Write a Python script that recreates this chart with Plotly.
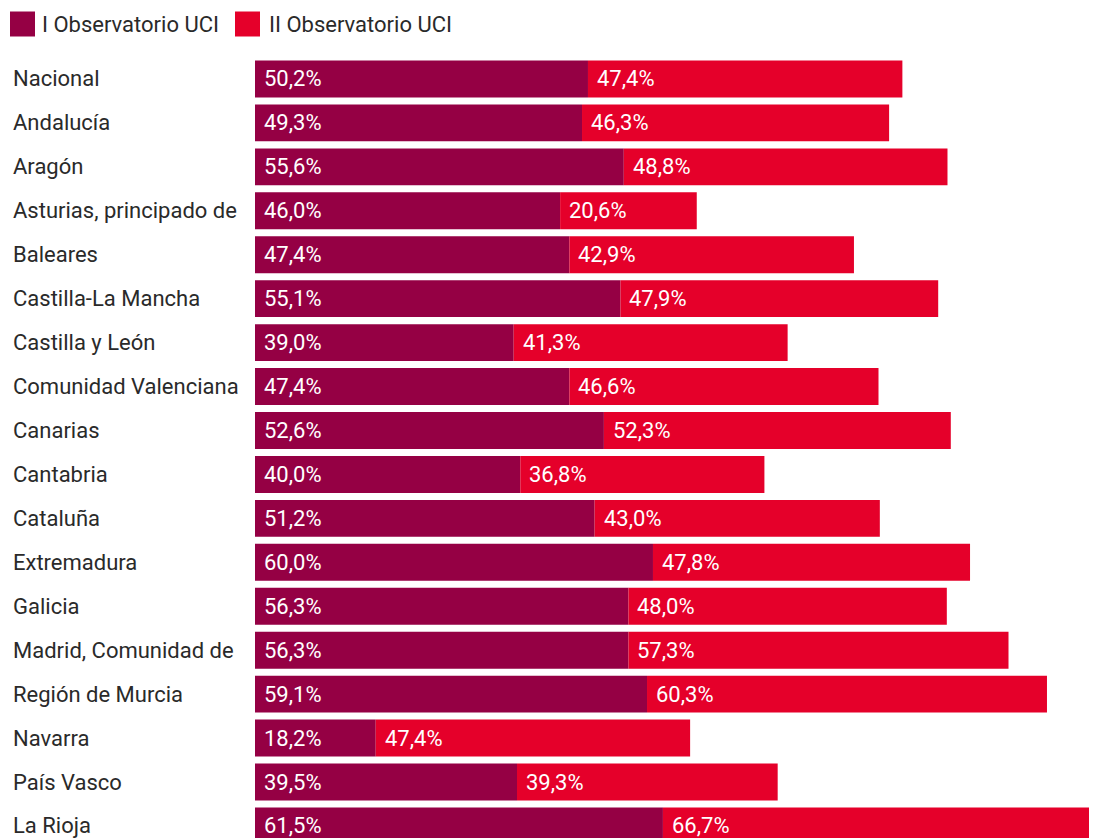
import plotly.graph_objects as go

regions = ["Nacional", "Andalucía", "Aragón", "Asturias, principado de", "Baleares",
           "Castilla-La Mancha", "Castilla y León", "Comunidad Valenciana", "Canarias",
           "Cantabria", "Cataluña", "Extremadura", "Galicia", "Madrid, Comunidad de",
           "Región de Murcia", "Navarra", "País Vasco", "La Rioja"]
obs1 = [50.2, 49.3, 55.6, 46.0, 47.4, 55.1, 39.0, 47.4, 52.6, 40.0, 51.2, 60.0, 56.3, 56.3, 59.1, 18.2, 39.5, 61.5]
obs2 = [47.4, 46.3, 48.8, 20.6, 42.9, 47.9, 41.3, 46.6, 52.3, 36.8, 43.0, 47.8, 48.0, 57.3, 60.3, 47.4, 39.3, 66.7]
series_names = ["I Observatorio UCI", "II Observatorio UCI"]
colors = ["#950044", "#E5002A"]

# page body has an 8px margin; figure coordinates = screen - 8
W, H = 1089, 830
ml, mt = 247, 49
pw = W - ml
ph = H - mt
pitch = 43.94
scale = 6.633

fig = go.Figure()
fig.add_trace(go.Bar(y=regions, x=obs1, orientation="h", marker=dict(color=colors[0], line=dict(width=0)),
                     name=series_names[0], showlegend=False))
fig.add_trace(go.Bar(y=regions, x=obs2, base=obs1, orientation="h", marker=dict(color=colors[1], line=dict(width=0)),
                     name=series_names[1], showlegend=False))

font = "Roboto, sans-serif"
anns = []
def fmt(v):
    return f"{v:.1f}%".replace(".", ",")

for r, a, b in zip(regions, obs1, obs2):
    anns.append(dict(x=0, y=r, xref="x", yref="y", text=fmt(a), showarrow=False,
                     xanchor="left", yanchor="middle", xshift=7,
                     font=dict(family=font, size=22, color="white")))
    anns.append(dict(x=a, y=r, xref="x", yref="y", text=fmt(b), showarrow=False,
                     xanchor="left", yanchor="middle", xshift=7,
                     font=dict(family=font, size=22, color="white")))
    anns.append(dict(x=-(ml - 3) / pw, y=r, xref="paper", yref="y", text=r, showarrow=False,
                     xanchor="left", yanchor="middle",
                     font=dict(family=font, size=22, color="#2a2a2a")))

# legend
leg_y = 1 + (mt - 16) / ph
sq = 25 / ph
shapes = []
legx = [2, 227]
txt_off = [30, 32]
for i, (nm, c) in enumerate(zip(series_names, colors)):
    x0 = (legx[i] - ml) / pw
    shapes.append(dict(type="rect", xref="paper", yref="paper", x0=x0, x1=x0 + 25 / pw,
                       y0=leg_y - sq / 2, y1=leg_y + sq / 2, fillcolor=c, line=dict(width=0)))
    anns.append(dict(x=(legx[i] + txt_off[i] - ml) / pw, y=leg_y, xref="paper", yref="paper", text=nm,
                     showarrow=False, xanchor="left", yanchor="middle",
                     font=dict(family=font, size=22, color="#2a2a2a")))

bottom = -0.5 + ph / pitch
fig.update_layout(
    width=W, height=H, barmode="overlay", bargap=0.16,
    margin=dict(l=ml, r=0, t=mt, b=0),
    plot_bgcolor="white", paper_bgcolor="white",
    xaxis=dict(range=[0, pw / scale], visible=False, fixedrange=True),
    yaxis=dict(range=[bottom, -0.5], showticklabels=False, showgrid=False, zeroline=False,
               categoryorder="array", categoryarray=regions),
    annotations=anns, shapes=shapes, showlegend=False,
)
fig.write_html("out.html")
